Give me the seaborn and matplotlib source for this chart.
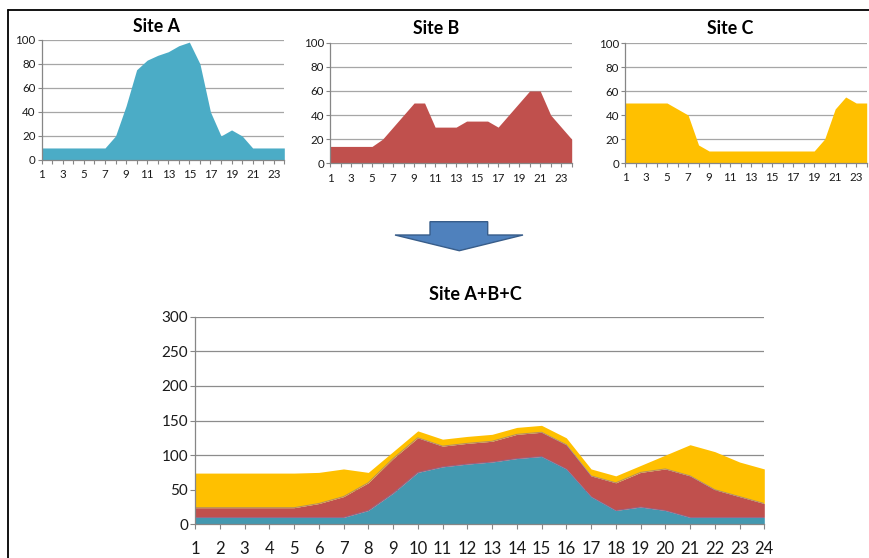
import matplotlib
matplotlib.use("Agg")
import matplotlib.pyplot as plt
from matplotlib.patches import Polygon
from matplotlib.lines import Line2D
import numpy as np
import pandas as pd
import seaborn as sns

# Hourly load per site (hours 1..24)
hours = list(range(1, 25))
site_a = [10, 10, 10, 10, 10, 10, 10, 20, 45, 75, 83, 87, 90, 95, 98, 80, 40, 20, 25, 20, 10, 10, 10, 10]
site_b = [14, 14, 14, 14, 14, 20, 30, 40, 50, 50, 30, 30, 30, 35, 35, 35, 30, 40, 50, 60, 60, 40, 30, 20]
site_c = [50, 50, 50, 50, 50, 45, 40, 15, 10, 10, 10, 10, 10, 10, 10, 10, 10, 10, 10, 20, 45, 55, 50, 50]

site_names = ["Site A", "Site B", "Site C"]
combined_title = "Site A+B+C"

small_yticks = [0, 20, 40, 60, 80, 100]
big_yticks = [0, 50, 100, 150, 200, 250, 300]

colors_small = ["#4BACC6", "#C0504D", "#FFC000"]
colors_big = ["#4398B0", "#C0504D", "#FFC000"]

sns.set_theme(style="white")
plt.rcParams["font.family"] = ["Lato", "DejaVu Sans"]

W, H = 870, 558
fig = plt.figure(figsize=(W / 100, H / 100), dpi=100)


def px_axes(x0, x1, y_top, y_bot):
    return fig.add_axes([x0 / W, 1 - y_bot / H, (x1 - x0) / W, (y_bot - y_top) / H])


def style(ax, yticks, label_every, fs_y, fs_x, grid_color, xpad, ylen):
    ax.set_xlim(1, 24)
    ax.set_ylim(yticks[0], yticks[-1])
    ax.set_yticks(yticks)
    ax.set_yticklabels([str(v) for v in yticks], fontsize=fs_y, color="#1a1a1a")
    ax.set_xticks(hours)
    ax.set_xticklabels([str(h) if (h - 1) % label_every == 0 else "" for h in hours],
                       fontsize=fs_x, color="#1a1a1a")
    ax.yaxis.grid(True, color=grid_color, lw=0.9)
    ax.xaxis.grid(False)
    ax.set_axisbelow(True)
    for s in ["top", "right"]:
        ax.spines[s].set_visible(False)
    for s in ["left", "bottom"]:
        ax.spines[s].set_color("#868686")
        ax.spines[s].set_linewidth(0.9)
    ax.tick_params(axis="y", which="major", direction="out", length=ylen, width=0.8,
                   color="#868686", pad=1.5, left=True)
    ax.tick_params(axis="x", which="major", direction="out", length=ylen, width=0.8,
                   color="#868686", pad=xpad, bottom=True)
    ax.set_xlabel("")
    ax.set_ylabel("")


# Three per-site charts
small_pos = [(41.7, 284.3, 39.7, 160.0), (330.0, 571.7, 42.7, 163.3), (625.0, 866.7, 43.0, 163.0)]
title_pos = [(156.7, 26), (436.3, 28), (729.7, 28)]
for series, name, col, pos, tpos in zip([site_a, site_b, site_c], site_names,
                                         colors_small, small_pos, title_pos):
    ax = px_axes(*pos)
    ax.fill_between(hours, 0, series, color=col, lw=0)
    style(ax, small_yticks, 2, 8.3, 8.3, "#A6A6A6", 4.0, 2.8)
    fig.text(tpos[0] / W, 1 - tpos[1] / H, name, ha="center", va="center",
             fontsize=12.8, fontweight="bold", color="#000000")

# Stacked total chart
axb = px_axes(195.0, 764.3, 316.7, 524.3)
axb.stackplot(hours, site_a, site_b, site_c, colors=colors_big, lw=0)
cum = pd.DataFrame({"hour": hours,
                    "a": np.array(site_a),
                    "ab": np.array(site_a) + np.array(site_b)})
sns.lineplot(data=cum, x="hour", y="a", ax=axb, color="#7E6CA6", lw=0.7, alpha=0.6)
sns.lineplot(data=cum, x="hour", y="ab", ax=axb, color="#7E6CA6", lw=0.7, alpha=0.6)
style(axb, big_yticks, 1, 11, 12, "#8C8C8C", 8.5, 3.5)
fig.text(475.5 / W, 1 - 295 / H, combined_title, ha="center", va="center",
         fontsize=13, fontweight="bold", color="#000000")

# Downward block arrow between the rows
arrow_px = [(430, 221.7), (487.7, 221.7), (487.7, 235), (523, 235), (459.3, 250.7),
            (395, 235), (430, 235)]
arrow = Polygon([(x / W, 1 - y / H) for x, y in arrow_px], closed=True,
                transform=fig.transFigure, facecolor="#4F81BD", edgecolor="#385D8A", lw=1.0)
fig.patches.append(arrow)

# Frame lines along the top and left edges
fig.lines.append(Line2D([8 / W, 1.0], [1 - 10 / H, 1 - 10 / H], transform=fig.transFigure,
                        color="black", lw=1.3))
fig.lines.append(Line2D([8 / W, 8 / W], [1 - 10 / H, 0.0], transform=fig.transFigure,
                        color="black", lw=1.3))

fig.savefig("out.png", dpi=100)
